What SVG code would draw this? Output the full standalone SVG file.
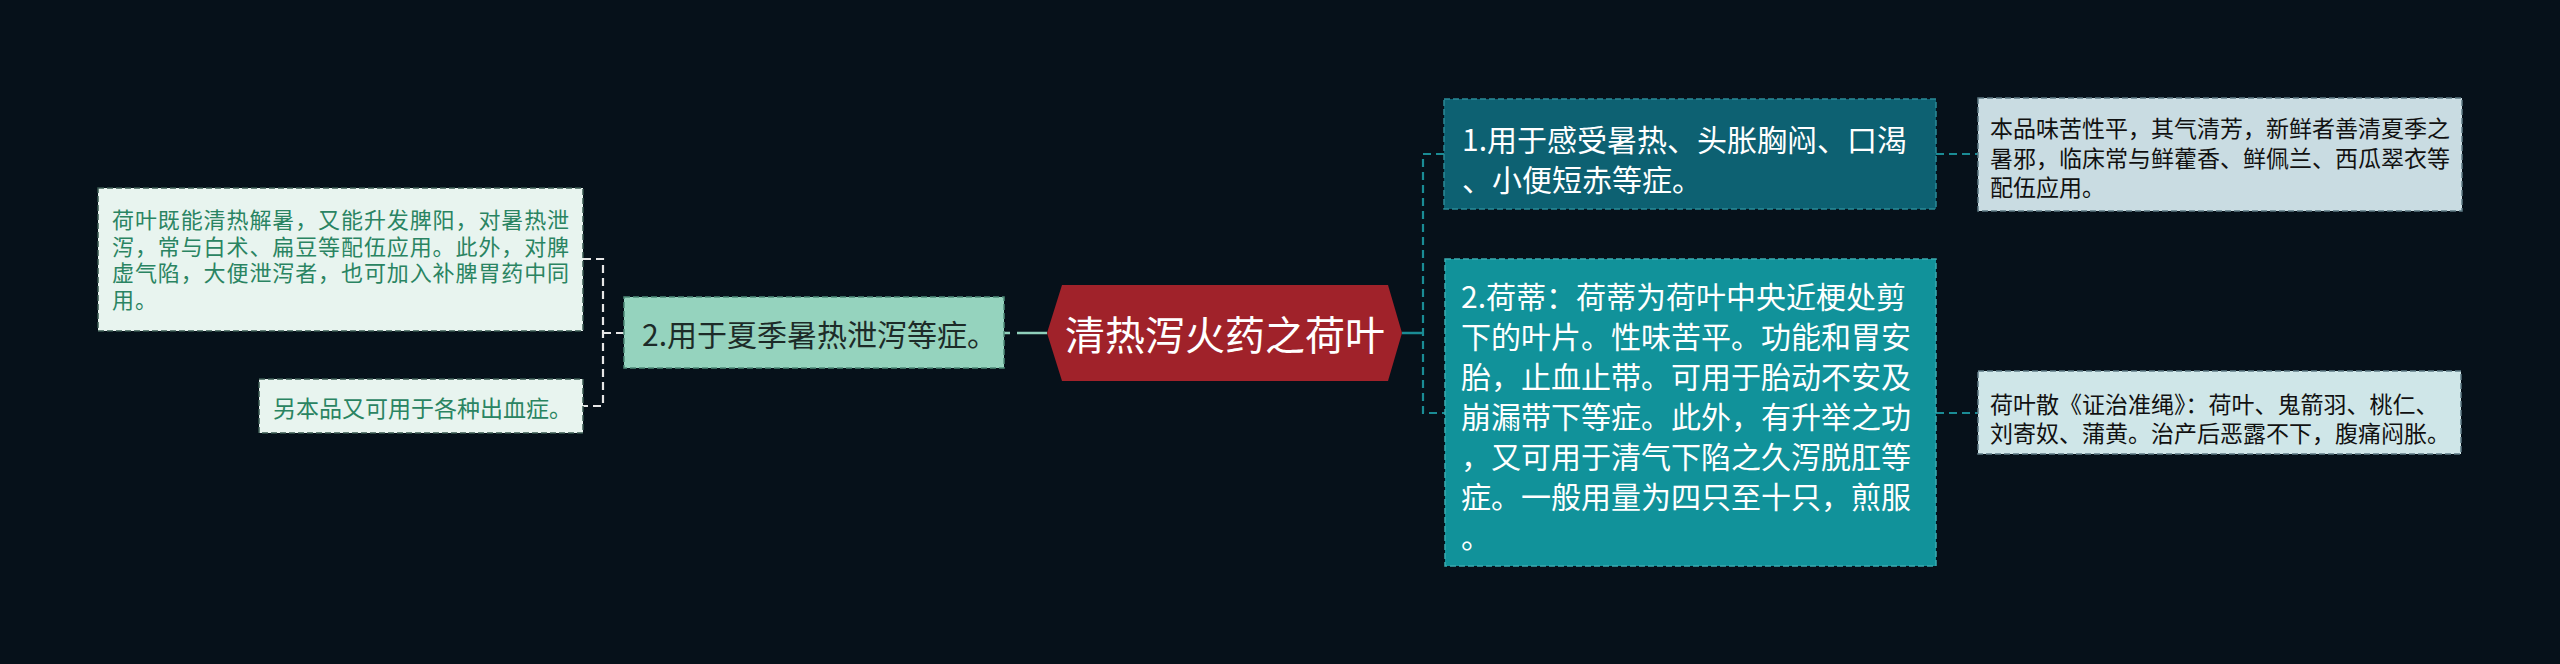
<svg xmlns="http://www.w3.org/2000/svg" width="2560" height="664" viewBox="0 0 2560 664">
<style>
text{font-family:"Noto Sans CJK SC","Noto Sans",sans-serif;dominant-baseline:central}
.box{stroke-width:1.5;stroke-dasharray:6 3}
.s23{font-size:23px}
.s22{font-size:22px;letter-spacing:0.9px}
.s30{font-size:30px}
.conn{fill:none;stroke-width:2.2;stroke-dasharray:8 5}
</style>
<rect width="2560" height="664" fill="#06111a"/>
<g id="connectors">
<path class="conn" stroke="#e6e6e6" d="M583,259 H603 V406 H583 M603,333 H624"/>
<path fill="none" stroke="#8fd0bb" stroke-width="2.5" d="M1004,333 H1010 M1017,333 H1047"/>
<path fill="none" stroke="#1a8c95" stroke-width="2.5" d="M1402,333 H1423"/>
<path class="conn" stroke="#1a8c95" d="M1444,154 H1423 V413 H1445"/>
<path class="conn" stroke="#1a8c95" d="M1936,154 H1978 M1936,413 H1978"/>
</g>
<g id="n-left1">
<rect class="box" x="98" y="188" width="485" height="143" fill="#e8f4ef" stroke="#3a5a52"/>
<text class="s22" fill="#2a8462"><tspan x="112" y="218">荷叶既能清热解暑，又能升发脾阳，对暑热泄</tspan><tspan x="112" y="244.5">泻，常与白术、扁豆等配伍应用。此外，对脾</tspan><tspan x="112" y="271">虚气陷，大便泄泻者，也可加入补脾胃药中同</tspan><tspan x="112" y="297.5">用。</tspan></text>
</g>
<g id="n-left2">
<rect class="box" x="259" y="379" width="324" height="54" fill="#e8f4ef" stroke="#3a5a52"/>
<text class="s23" fill="#2a8462" x="273" y="407">另本品又可用于各种出血症。</text>
</g>
<g id="n-summer">
<rect class="box" x="624" y="297" width="380" height="71" fill="#95d3be" stroke="#4e8a78"/>
<text class="s30" fill="#1d2b28" x="642" y="333">2.用于夏季暑热泄泻等症。</text>
</g>
<g id="n-root">
<polygon points="1047,333 1062,285 1388,285 1402,333 1388,381 1062,381" fill="#a0222a"/>
<text fill="#ffffff" font-size="40" x="1225" y="333" text-anchor="middle">清热泻火药之荷叶</text>
</g>
<g id="n-r1">
<rect class="box" x="1444" y="99" width="492" height="110" fill="#0d6172" stroke="#2a8a98"/>
<text class="s30" fill="#ffffff"><tspan x="1462" y="138">1.用于感受暑热、头胀胸闷、口渴</tspan><tspan x="1462" y="178">、小便短赤等症。</tspan></text>
</g>
<g id="n-r2">
<rect class="box" x="1445" y="259" width="491" height="307" fill="#11929a" stroke="#3aaab0"/>
<text class="s30" fill="#ffffff"><tspan x="1461" y="295">2.荷蒂：荷蒂为荷叶中央近梗处剪</tspan><tspan x="1461" y="335">下的叶片。性味苦平。功能和胃安</tspan><tspan x="1461" y="375">胎，止血止带。可用于胎动不安及</tspan><tspan x="1461" y="415">崩漏带下等症。此外，有升举之功</tspan><tspan x="1461" y="455">，又可用于清气下陷之久泻脱肛等</tspan><tspan x="1461" y="495">症。一般用量为四只至十只，煎服</tspan><tspan x="1461" y="535">。</tspan></text>
</g>
<g id="n-r1a">
<rect class="box" x="1978" y="98" width="484" height="113" fill="#c9dce2" stroke="#5d7a84"/>
<text class="s23" fill="#111111"><tspan x="1990" y="127">本品味苦性平，其气清芳，新鲜者善清夏季之</tspan><tspan x="1990" y="156.5">暑邪，临床常与鲜藿香、鲜佩兰、西瓜翠衣等</tspan><tspan x="1990" y="186">配伍应用。</tspan></text>
</g>
<g id="n-r2a">
<rect class="box" x="1978" y="371" width="483" height="83" fill="#cfe6e8" stroke="#5d7a84"/>
<text class="s23" fill="#111111"><tspan x="1990" y="403">荷叶散《证治准绳》：荷叶、鬼箭羽、桃仁、</tspan><tspan x="1990" y="432">刘寄奴、蒲黄。治产后恶露不下，腹痛闷胀。</tspan></text>
</g>
</svg>
